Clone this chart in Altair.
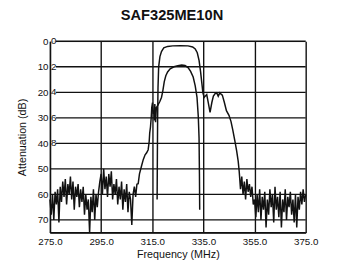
import altair as alt
import pandas as pd
import numpy as np

# ---- data ----
title_text = "SAF325ME10N"
x_ticks = [275, 295, 315, 335, 355, 375]
y_ticks = [0, 10, 20, 30, 40, 50, 60, 70]
inner_ticks = [0, 10, 20, 30, 40]
inner_labels = ["0", "2", "4", "6", "8"]

# left noise floor (275.0 .. 309.0, every 0.5 MHz)
noise_left = [62, 68, 60, 70, 59, 64, 58, 71, 57, 63, 55, 61, 54, 64, 56, 60, 53, 62,
              55, 66, 57, 61, 56, 65, 58, 63, 57, 68, 60, 66, 62, 75, 61, 67, 58, 70,
              60, 65, 59, 55, 52, 60, 50, 58, 53, 61, 52, 57, 51, 62, 56, 60, 54, 64,
              57, 62, 55, 66, 58, 63, 56, 67, 59, 62, 72, 60, 57, 61, 56]
noise_left_f = list(np.arange(275.0, 309.01, 0.5))

# wideband trace: rising edge, passband, falling edge
wide_f = [309.5, 310.0, 310.8, 311.5, 312.2, 312.8, 313.4, 313.8, 314.0, 314.3, 314.6,
          314.8, 315.1, 315.4, 315.6, 315.8, 316.0, 316.3, 316.6, 317.2, 318.0, 318.6,
          319.1, 319.7, 320.3, 321.0, 322.0, 323.5, 325.0, 326.5, 327.8, 329.0, 330.0,
          331.0, 331.8, 332.5, 333.0, 333.3, 333.45, 333.55]
wide_a = [55.8, 52, 48.9, 46.3, 44.5, 43.7, 42.5, 39.3, 36, 33.6, 29.8,
          26, 24, 28.5, 27, 31, 24.6, 31.7, 26, 25, 23.5, 22,
          19.6, 15.8, 13.5, 12, 10.8, 10.0, 9.6, 9.3, 9.5, 10.3, 11.8,
          14.0, 17.5, 22, 29.5, 38, 52, 66]

# expanded passband trace with shoulder
pass_f = [316.9, 317.0, 317.1, 317.25, 317.5, 318.0, 318.6, 319.5, 321.0, 323.0, 326.0,
          329.0, 330.8, 331.8, 332.6, 333.3, 333.9, 334.4, 334.8, 335.3, 335.7, 336.3,
          336.9, 337.6, 338.3, 338.9, 339.6, 340.2, 340.8, 341.4, 342.0, 342.4, 343.2,
          344.0, 345.0, 345.8, 346.5, 347.3, 348.0, 348.6, 349.0]
pass_a = [62, 45, 30, 18, 10, 6, 4.0, 2.6, 2.0, 1.8, 1.7,
          1.8, 2.2, 3.0, 4.5, 7.5, 12, 16.5, 20.2, 22, 21.5, 20.9,
          24, 27.9, 24, 21.5, 20.5, 20.2, 21.5, 20.2, 20.8, 21.1, 24,
          27.2, 29, 31.5, 34.8, 39, 43, 47, 51]

# right noise floor (349.5 .. 375.0, every 0.5 MHz)
noise_right = [58, 53, 60, 55, 62, 54, 59, 56, 61, 57, 64, 62, 69, 60, 67, 58, 70, 61,
               66, 59, 73, 62, 68, 58, 65, 60, 71, 57, 66, 61, 69, 59, 73, 62, 67, 58,
               70, 61, 65, 59, 68, 62, 71, 60, 73, 61, 66, 59, 64, 58, 63, 60]
noise_right_f = list(np.arange(349.5, 375.01, 0.5))

# ---- build tables ----
fa = noise_left_f + wide_f
aa = noise_left + wide_a
fb = pass_f + noise_right_f
ab = pass_a + noise_right
df = pd.DataFrame({
    "f": fa + fb,
    "a": aa + ab,
    "trace": ["wide"] * len(fa) + ["pass"] * len(fb),
    "i": list(range(len(fa))) + list(range(len(fb))),
})

W, H = 262, 196
xs = alt.Scale(domain=[275, 375], nice=False, zero=False)
ys = alt.Scale(domain=[0, 75], reverse=True, nice=False, zero=False)
FONT = "Liberation Sans"
INK = "#111111"

x_axis = alt.Axis(values=x_ticks, format=".1f", title="Frequency (MHz)",
                  grid=True, gridColor=INK, gridWidth=1.4, gridOpacity=1,
                  ticks=False, labelPadding=4, labelFontSize=10,
                  titleFontSize=11, titlePadding=3, labelFont=FONT,
                  titleFont=FONT, labelColor=INK, titleColor=INK,
                  titleFontWeight="normal", domainColor=INK, domainWidth=1.4,
                  labelFlush=False, labelOverlap=False)
y_axis = alt.Axis(values=y_ticks, tickCount=8, title="Attenuation (dB)", grid=False,
                  ticks=False, labelPadding=2, labelFontSize=10,
                  titleFontSize=11, titlePadding=10, labelFont=FONT,
                  titleFont=FONT, labelColor=INK, titleColor=INK,
                  titleFontWeight="normal", domainColor=INK, domainWidth=1.4,
                  labelOverlap=False, labelFlush=False, labelBound=False)

lines = alt.Chart(df).mark_line(color=INK, strokeWidth=1.5, strokeJoin="miter").encode(
    x=alt.X("f:Q", scale=xs, axis=x_axis),
    y=alt.Y("a:Q", scale=ys, axis=y_axis),
    order="i:Q",
    detail="trace:N",
)

grid_lab = alt.Chart(pd.DataFrame({"v": inner_ticks})).mark_rule(
    color=INK, strokeWidth=1.4).encode(
    y=alt.Y("v:Q", scale=ys, axis=y_axis), x=alt.value(6), x2=alt.value(W))

grid_rest = alt.Chart(pd.DataFrame({"v": [t for t in y_ticks if t not in inner_ticks] + [75]})).mark_rule(
    color=INK, strokeWidth=1.4).encode(
    y=alt.Y("v:Q", scale=ys, axis=y_axis), x=alt.value(0), x2=alt.value(W))

inner = alt.Chart(pd.DataFrame({"v": inner_ticks, "t": inner_labels})).mark_text(
    align="left", baseline="middle", font=FONT, fontSize=10, color=INK, dx=0).encode(
    y=alt.Y("v:Q", scale=ys, axis=y_axis), x=alt.value(1), text="t:N")

chart = alt.layer(lines, grid_lab, grid_rest, inner).properties(
    width=W, height=H,
    title=alt.TitleParams(title_text, font=FONT, fontSize=15, fontWeight="bold",
                          color=INK, offset=14, dx=-6, anchor="middle"),
    autosize=alt.AutoSizeParams(type="none"),
    padding={"left": 43, "top": 31, "right": 29, "bottom": 27},
).configure_view(stroke=None).configure(background="white")

chart.save("out.html", embed_options={"renderer": "svg", "actions": False})
